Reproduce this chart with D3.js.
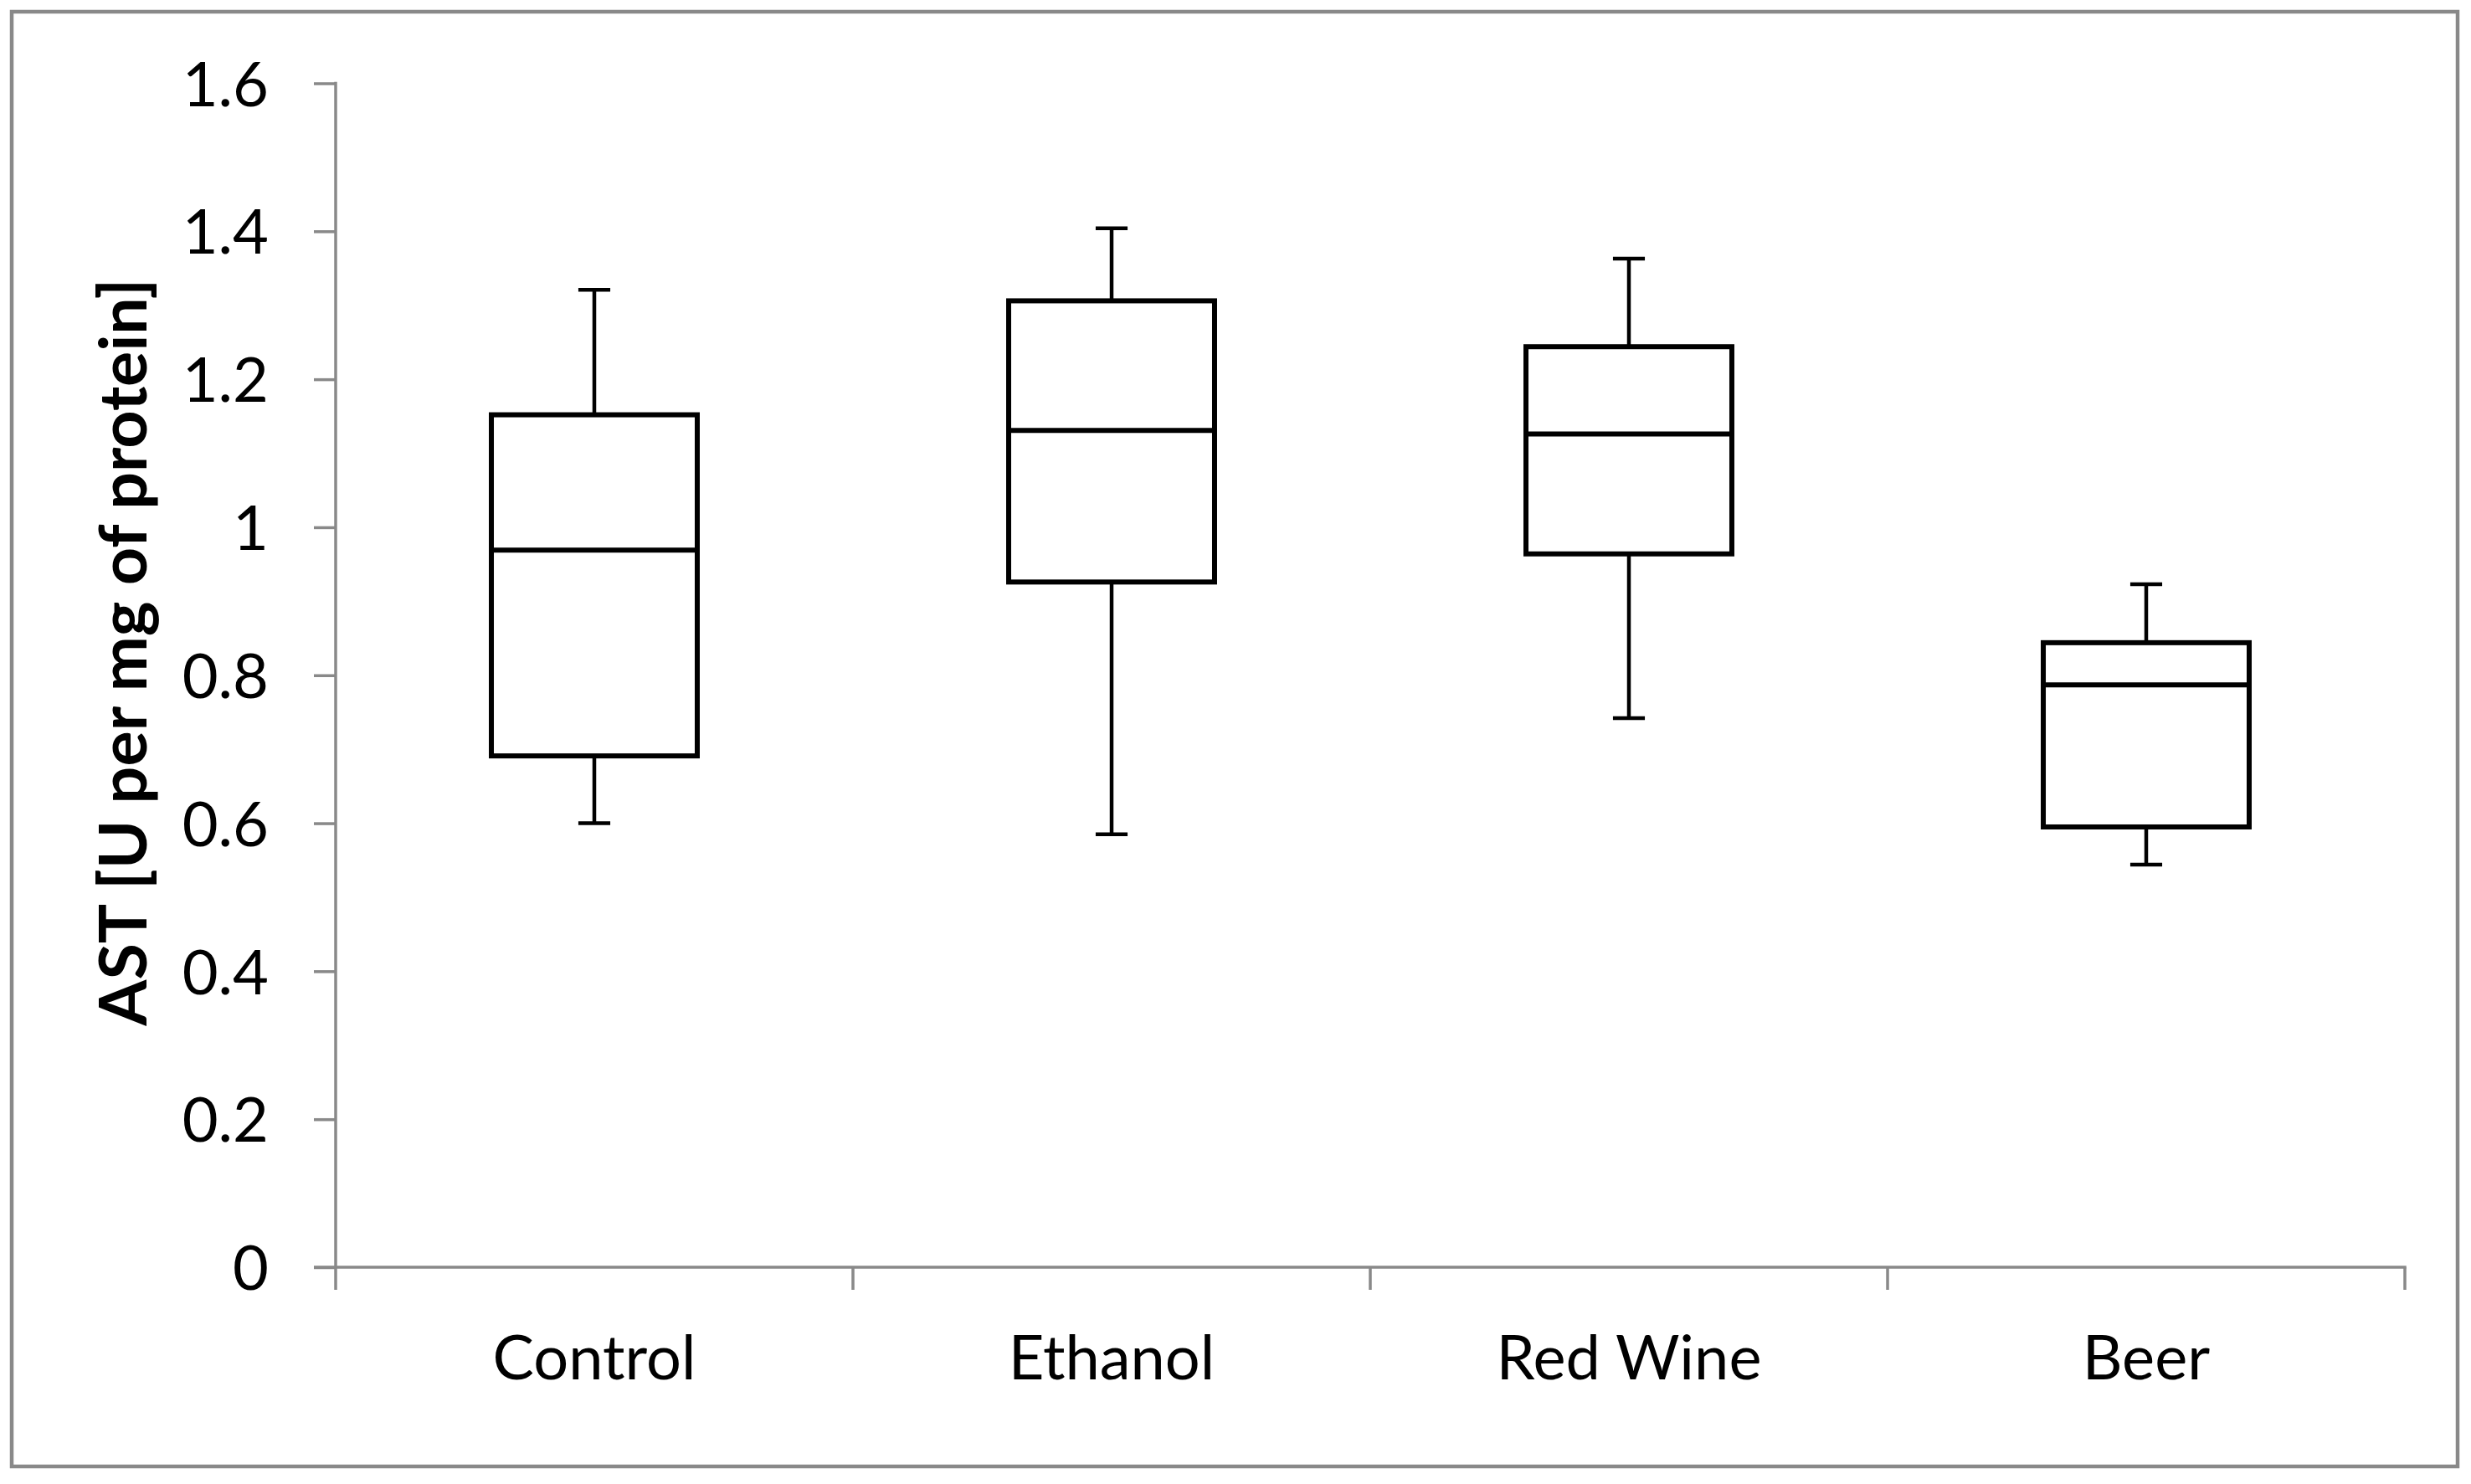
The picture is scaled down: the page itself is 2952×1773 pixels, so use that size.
<!DOCTYPE html>
<html>
<head>
<meta charset="utf-8">
<script src="https://cdn.jsdelivr.net/npm/d3@7"></script>
<style>
  body { margin: 0; background: #fff; }
  svg text { font-family: Lato, "Open Sans", sans-serif; fill: #000; }
</style>
</head>
<body>
<svg id="chart" width="2952" height="1773"></svg>
<script>
// groups and box-plot values
var groups = ["Control", "Ethanol", "Red Wine", "Beer"];
var whiskerLow  = [0.600, 0.585, 0.742, 0.544];
var quartileLow = [0.691, 0.926, 0.964, 0.595];
var medians     = [0.969, 1.131, 1.126, 0.787];
var quartileHigh= [1.152, 1.306, 1.244, 0.844];
var whiskerHigh = [1.321, 1.404, 1.363, 0.923];
var yTicks = [0, 0.2, 0.4, 0.6, 0.8, 1, 1.2, 1.4, 1.6];
var yTitle = "AST [U per mg of protein]";

var axisGrey = "#898989";

var svg = d3.select("#chart");

// outer chart border
svg.append("rect")
    .attr("x", 14).attr("y", 14)
    .attr("width", 2922).attr("height", 1738)
    .attr("fill", "none")
    .attr("stroke", axisGrey)
    .attr("stroke-width", 4.5);

var x = d3.scaleBand()
    .domain(groups)
    .range([401, 2873])
    .padding(0);

var y = d3.scaleLinear()
    .domain([0, 1.6])
    .range([1514, 99.5]);

// y axis
var yAxis = svg.append("g")
    .attr("transform", "translate(401,0)")
    .call(d3.axisLeft(y)
        .tickValues(yTicks)
        .tickSize(26)
        .tickPadding(54)
        .tickFormat(function(d){ return String(d); }));
yAxis.select(".domain").remove();
yAxis.selectAll(".tick line").attr("stroke", axisGrey).attr("stroke-width", 3.5);
yAxis.selectAll(".tick text")
    .attr("font-size", 74)
    .attr("dy", "0.36em");
yAxis.append("line")
    .attr("x1", 0).attr("x2", 0)
    .attr("y1", y(1.6) - 1.75).attr("y2", y(0))
    .attr("stroke", axisGrey).attr("stroke-width", 3.5);

// x axis: labels under band centres, ticks on band edges
var xAxis = svg.append("g")
    .attr("transform", "translate(0," + y(0) + ")")
    .call(d3.axisBottom(x).tickSize(0).tickPadding(0));
xAxis.select(".domain").remove();
xAxis.selectAll(".tick text")
    .attr("font-size", 74)
    .attr("dy", null)
    .attr("y", 134);
xAxis.append("line")
    .attr("x1", x.range()[0] - 26).attr("x2", x.range()[1] + 1.75)
    .attr("y1", 0).attr("y2", 0)
    .attr("stroke", axisGrey).attr("stroke-width", 3.5);
var edges = groups.map(function(g){ return x(g); }).concat([x.range()[1]]);
xAxis.selectAll(".edge")
    .data(edges)
    .enter().append("line")
    .attr("class", "edge")
    .attr("x1", function(d){ return d; })
    .attr("x2", function(d){ return d; })
    .attr("y1", 0).attr("y2", 27)
    .attr("stroke", axisGrey).attr("stroke-width", 3.5);

// y title
svg.append("text")
    .attr("transform", "translate(175," + 779 + ") rotate(-90)")
    .attr("text-anchor", "middle")
    .attr("font-size", 79)
    .attr("font-weight", "bold")
    .text(yTitle);

// boxes
var boxW = x.bandwidth() * 0.398;
var capW = boxW * 0.155;

var rows = groups.map(function(g, i){
    return {
        name: g,
        lo: whiskerLow[i], q1: quartileLow[i], med: medians[i],
        q3: quartileHigh[i], hi: whiskerHigh[i]
    };
});

var box = svg.selectAll(".box")
    .data(rows)
    .enter().append("g")
    .attr("class", "box")
    .attr("transform", function(d){ return "translate(" + (x(d.name) + x.bandwidth() / 2) + ",0)"; });

// whiskers
box.append("line")
    .attr("x1", 0).attr("x2", 0)
    .attr("y1", function(d){ return y(d.hi); })
    .attr("y2", function(d){ return y(d.q3); })
    .attr("stroke", "#000").attr("stroke-width", 4.5);
box.append("line")
    .attr("x1", 0).attr("x2", 0)
    .attr("y1", function(d){ return y(d.q1); })
    .attr("y2", function(d){ return y(d.lo); })
    .attr("stroke", "#000").attr("stroke-width", 4.5);
box.append("line")
    .attr("x1", -capW / 2).attr("x2", capW / 2)
    .attr("y1", function(d){ return y(d.hi); })
    .attr("y2", function(d){ return y(d.hi); })
    .attr("stroke", "#000").attr("stroke-width", 4.5);
box.append("line")
    .attr("x1", -capW / 2).attr("x2", capW / 2)
    .attr("y1", function(d){ return y(d.lo); })
    .attr("y2", function(d){ return y(d.lo); })
    .attr("stroke", "#000").attr("stroke-width", 4.5);

// box body
box.append("rect")
    .attr("x", -boxW / 2)
    .attr("width", boxW)
    .attr("y", function(d){ return y(d.q3); })
    .attr("height", function(d){ return y(d.q1) - y(d.q3); })
    .attr("fill", "#fff")
    .attr("stroke", "#000")
    .attr("stroke-width", 6);

// median
box.append("line")
    .attr("x1", -boxW / 2).attr("x2", boxW / 2)
    .attr("y1", function(d){ return y(d.med); })
    .attr("y2", function(d){ return y(d.med); })
    .attr("stroke", "#000").attr("stroke-width", 6);
</script>
</body>
</html>
